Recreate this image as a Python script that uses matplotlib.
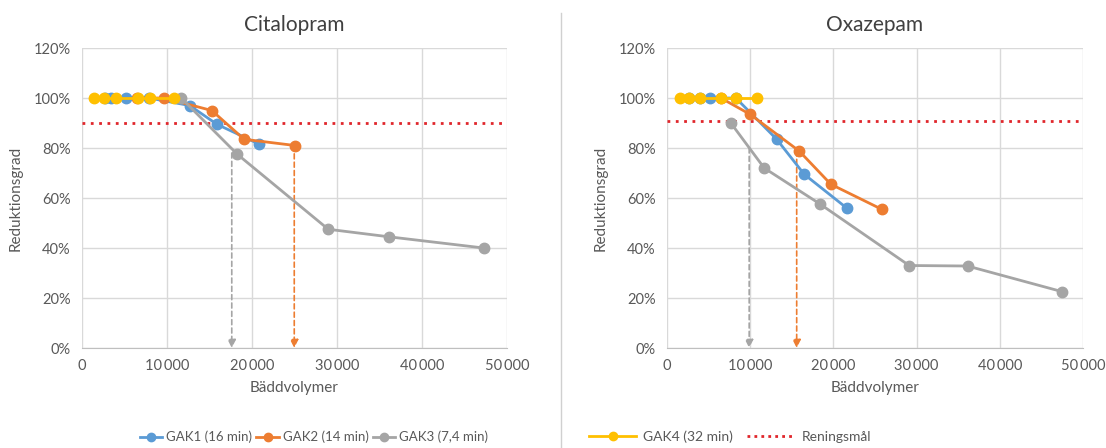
import matplotlib
matplotlib.use("Agg")
import matplotlib.pyplot as plt
from matplotlib.lines import Line2D
from matplotlib.ticker import FuncFormatter, MultipleLocator

# --- data (bed volumes, % reduction) ---
cit_gak1_x = [2700, 3400, 5200, 7900, 12700, 15900, 20900]
cit_gak1_y = [100, 100, 100, 100, 97, 89.5, 81.5]
cit_gak2_x = [6500, 9700, 15300, 19100, 25100]
cit_gak2_y = [100, 100, 95, 83.5, 81]
cit_gak3_x = [11700, 18300, 29000, 36100, 47300]
cit_gak3_y = [100, 77.5, 47.5, 44.5, 40]
cit_gak4_x = [1400, 2600, 4000, 6600, 8000, 10800]
cit_gak4_y = [100, 100, 100, 100, 100, 100]
cit_target = 90
cit_arrows = [(17650, 78, "gray"), (25000, 81, "orange")]

oxa_gak1_x = [2700, 4000, 5200, 8300, 13200, 16500, 21600]
oxa_gak1_y = [100, 100, 100, 100, 83.5, 69.5, 56]
oxa_gak2_x = [6500, 10000, 15900, 19700, 25800]
oxa_gak2_y = [100, 93.5, 78.8, 65.5, 55.5]
oxa_gak3_x = [7700, 11700, 18400, 29100, 36100, 47500]
oxa_gak3_y = [90, 72, 57.6, 33, 32.8, 22.5]
oxa_gak4_x = [1600, 2700, 4000, 6500, 8300, 10800]
oxa_gak4_y = [100, 100, 100, 100, 100, 100]
oxa_target = 91
oxa_arrows = [(9900, 80, "gray"), (15600, 78.8, "orange")]

labels = ["GAK1 (16 min)", "GAK2 (14 min)", "GAK3 (7,4 min)", "GAK4 (32 min)", "Reningsmål"]
colors = {"blue": "#5B9BD5", "orange": "#ED7D31", "gray": "#A5A5A5",
          "yellow": "#FFC000", "red": "#E0262B"}
text_col = "#595959"

plt.rcParams['font.family'] = ['Lato', 'DejaVu Sans']

fig = plt.figure(figsize=(11.06, 4.48), dpi=100)


def draw_panel(ax, title, series, target, arrows):
    ax.set_xlim(0, 50000)
    ax.set_ylim(0, 120)
    ax.xaxis.set_major_locator(MultipleLocator(10000))
    ax.yaxis.set_major_locator(MultipleLocator(20))
    ax.xaxis.set_major_formatter(FuncFormatter(
        lambda v, p: "0" if v == 0 else f"{int(v):,}".replace(",", "\u2009")))
    ax.yaxis.set_major_formatter(FuncFormatter(lambda v, p: f"{int(v)}%"))
    ax.grid(True, color="#D9D9D9", linewidth=1)
    ax.set_axisbelow(True)
    for s in ax.spines.values():
        s.set_visible(False)
    ax.spines['bottom'].set_visible(True)
    ax.spines['bottom'].set_color("#BFBFBF")
    ax.tick_params(length=0, labelsize=10.5, colors=text_col, pad=8)

    for x, y, c in arrows:
        ax.annotate("", xy=(x, 0), xytext=(x, y),
                    arrowprops=dict(arrowstyle="-|>", color=colors[c], lw=1.2,
                                    linestyle=(0, (3, 2)), mutation_scale=12,
                                    shrinkA=0, shrinkB=0))
    ax.axhline(target, color=colors["red"], lw=2, linestyle=(0, (1, 2)), zorder=2)
    for x, y, c in series:
        ax.plot(x, y, color=colors[c], lw=2, marker="o", markersize=7.5, zorder=3)

    ax.set_title(title, fontsize=15, color="#404040", pad=12)
    ax.set_xlabel("Bäddvolymer", fontsize=11, color=text_col, labelpad=6)
    ax.set_ylabel("Reduktionsgrad", fontsize=11, color=text_col, labelpad=8)


ax1 = fig.add_axes([0.0739, 0.2232, 0.3843, 0.6696])
draw_panel(ax1, "Citalopram",
           [(cit_gak1_x, cit_gak1_y, "blue"), (cit_gak2_x, cit_gak2_y, "orange"),
            (cit_gak3_x, cit_gak3_y, "gray"), (cit_gak4_x, cit_gak4_y, "yellow")],
           cit_target, cit_arrows)

ax2 = fig.add_axes([0.6028, 0.2232, 0.3767, 0.6696])
draw_panel(ax2, "Oxazepam",
           [(oxa_gak1_x, oxa_gak1_y, "blue"), (oxa_gak2_x, oxa_gak2_y, "orange"),
            (oxa_gak3_x, oxa_gak3_y, "gray"), (oxa_gak4_x, oxa_gak4_y, "yellow")],
           oxa_target, oxa_arrows)

# divider between the two charts
fig.add_artist(Line2D([561 / 1106, 561 / 1106], [0, 1 - 13 / 448],
                      color="#D0D0D0", lw=1))

h = [Line2D([], [], color=colors[c], lw=2, marker="o", markersize=6)
     for c in ["blue", "orange", "gray"]]
fig.legend(h, labels[:3], loc="center", bbox_to_anchor=(314 / 1106, 1 - 437 / 448),
           ncol=3, frameon=False, fontsize=9.5, labelcolor=text_col,
           handlelength=1.7, columnspacing=0.3, handletextpad=0.3)

h2 = [Line2D([], [], color=colors["yellow"], lw=2, marker="o", markersize=6),
      Line2D([], [], color=colors["red"], lw=2, linestyle=(0, (1, 1.5)))]
fig.legend(h2, labels[3:], loc="center", bbox_to_anchor=(730 / 1106, 1 - 437 / 448),
           ncol=2, frameon=False, fontsize=10, labelcolor=text_col,
           handlelength=3.4, columnspacing=1.0, handletextpad=0.5)

fig.savefig("out.png", dpi=100, facecolor="white")
